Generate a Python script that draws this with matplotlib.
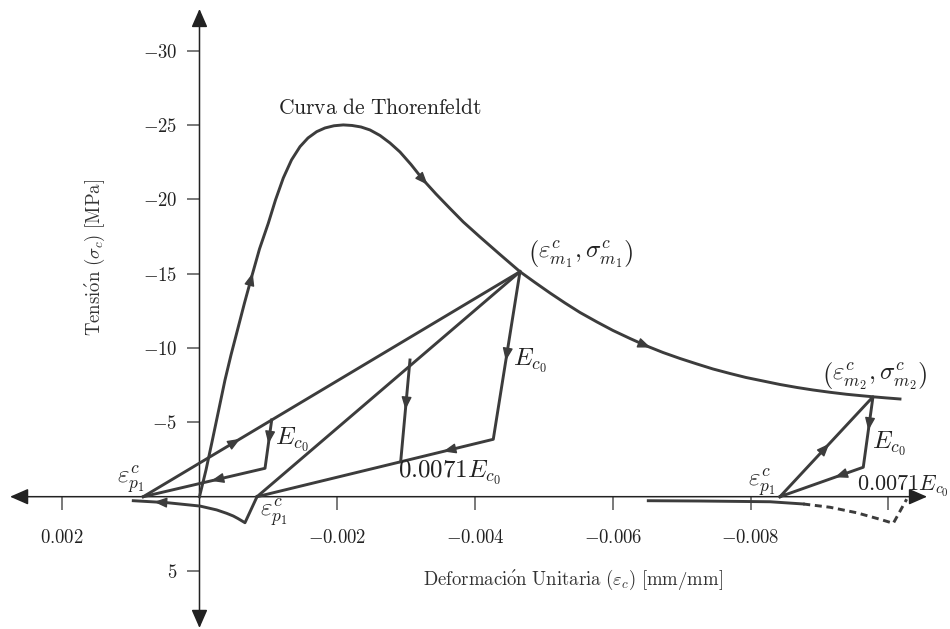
import numpy as np
import matplotlib
matplotlib.use("Agg")
import matplotlib.pyplot as plt

plt.rcParams["mathtext.fontset"] = "cm"
plt.rcParams["font.family"] = ["DejaVu Serif"]

COL = "#3c3c3c"
AXCOL = "#555555"

# Envolvente (curva de Thorenfeldt)
eps_env = [0.0, -0.0000943, -0.0001814, -0.0002758, -0.0003701, -0.0004572, -0.0005515,
           -0.0006531, -0.0007576, -0.0008708, -0.0009985, -0.0011030, -0.0012163,
           -0.0013353, -0.0014586, -0.0015747, -0.0017010, -0.0018215, -0.0019521,
           -0.0020871, -0.0022134, -0.0023440, -0.0024746, -0.0026197, -0.0027649,
           -0.0029100, -0.0030697, -0.0032482, -0.0034325, -0.0036357, -0.0038287,
           -0.0040711, -0.0043614, -0.0046517, -0.0048694, -0.0050871, -0.0053048,
           -0.0055225, -0.0057692, -0.0060015, -0.0062482, -0.0064906, -0.0067271,
           -0.0069739, -0.0072206, -0.0074528, -0.0076996, -0.0079318, -0.0081785,
           -0.0084253, -0.0086720, -0.0089042, -0.0091509, -0.0093933, -0.0095864,
           -0.0097750, -0.0099637, -0.0101669]
sig_env = [0.0, -1.796, -3.679, -5.763, -7.848, -9.529, -11.211, -13.026, -14.795,
           -16.658, -18.386, -19.953, -21.432, -22.643, -23.537, -24.122, -24.546,
           -24.795, -24.943, -25.0, -24.963, -24.862, -24.661, -24.291, -23.786,
           -23.181, -22.340, -21.298, -20.356, -19.382, -18.474, -17.465, -16.288,
           -15.131, -14.405, -13.699, -13.026, -12.387, -11.749, -11.177, -10.639,
           -10.135, -9.697, -9.294, -8.924, -8.588, -8.285, -8.016, -7.781, -7.545,
           -7.344, -7.176, -7.021, -6.886, -6.799, -6.718, -6.644, -6.570]

# descarga desde (eps_m1, sig_m1) hasta eps_p1
eps_unl1 = [-0.0046517, -0.004264, -0.000835]
sig_unl1 = [-15.131, -3.86, 0.0]
# recarga eps_p1 -> m1
eps_rel1 = [-0.000835, -0.0046517]
sig_rel1 = [0.0, -15.131]
# descarga parcial
eps_par = [-0.003055, -0.002920]
sig_par = [-9.19, -2.35]
# recta desde eps_p1 (izquierda) hasta m1
eps_up = [0.000816, -0.0046517]
sig_up = [0.0, -15.131]
# ciclo pequeno
eps_small = [-0.001048, -0.000951, 0.000816]
sig_small = [-5.16, -1.91, 0.0]
# rama de traccion 1
eps_ten1 = [-0.000835, -0.000660, -0.000559, -0.000491, -0.000395, -0.000250,
            -0.000007, 0.000476, 0.000961]
sig_ten1 = [0.0, 1.75, 1.47, 1.30, 1.12, 0.89, 0.63, 0.40, 0.27]
# ciclo en m2
eps_cyc2 = [-0.008425, -0.009775, -0.009634, -0.008425]
sig_cyc2 = [0.0, -6.718, -1.98, 0.0]
# rama de traccion 2 (continua y discontinua)
eps_ten2 = [-0.006514, -0.007264, -0.008280, -0.008763]
sig_ten2 = [0.27, 0.29, 0.34, 0.49]
eps_ten2d = [-0.008763, -0.009151, -0.009538, -0.009877, -0.010070, -0.010264]
sig_ten2d = [0.49, 0.71, 1.08, 1.52, 1.79, 0.17]

# flechas de sentido: (curva, eps, sig)
flechas = [("env", -0.000758, -14.79), ("env", -0.003248, -21.08), ("env", -0.00649, -10.09),
           ("unl1", -0.004448, -9.41), ("unl1", -0.003592, -3.14), ("par", -0.003041, -6.10),
           ("up", -0.00054, -3.77), ("small", -0.001023, -3.81), ("small", -0.000225, -1.12),
           ("ten1", 0.000602, 0.42), ("cyc2", -0.009103, -3.36), ("cyc2", -0.009732, -4.71),
           ("cyc2", -0.009271, -1.46)]

yticks = [-30, -25, -20, -15, -10, -5, 5]
xticks = [0.002, -0.002, -0.004, -0.006, -0.008, -0.010]
xticklabels = ["0.002", "-0.002", "-0.004", "-0.006", "-0.008", ""]

curvas = {"env": (eps_env, sig_env), "unl1": (eps_unl1, sig_unl1), "rel1": (eps_rel1, sig_rel1),
          "par": (eps_par, sig_par), "up": (eps_up, sig_up), "small": (eps_small, sig_small),
          "ten1": (eps_ten1, sig_ten1), "cyc2": (eps_cyc2, sig_cyc2), "ten2": (eps_ten2, sig_ten2)}

fig = plt.figure(figsize=(9.5, 6.29), dpi=100)
ax = fig.add_axes([0, 0, 1, 1])
ax.set_xlim(0.0028955, -0.010893)
ax.set_ylim(8.897, -33.40)

for xs, ys in curvas.values():
    ax.plot(xs, ys, color=COL, lw=2.1, solid_joinstyle="round", zorder=3)
ax.plot(eps_ten2d, sig_ten2d, color=COL, lw=2.1, ls=(0, (2.4, 1.6)), zorder=3)


def flecha(xs, ys, x0, y0):
    pts = ax.transData.transform(np.column_stack([xs, ys]))
    p = ax.transData.transform((x0, y0))
    best = None
    for a, b in zip(pts[:-1], pts[1:]):
        d = b - a
        t = np.clip(np.dot(p - a, d) / np.dot(d, d), 0, 1)
        q = a + t * d
        dist = np.hypot(*(p - q))
        if best is None or dist < best[0]:
            best = (dist, q, d / np.hypot(*d))
    _, q, u = best
    inv = ax.transData.inverted()
    ax.annotate("", xy=inv.transform(q + u * 4), xytext=inv.transform(q - u * 4),
                arrowprops=dict(arrowstyle="-|>,head_length=0.55,head_width=0.22",
                                color=COL, lw=1.0, shrinkA=0, shrinkB=0, mutation_scale=14),
                zorder=4)


for nombre, x0, y0 in flechas:
    flecha(*curvas[nombre], x0, y0)

# ejes con flechas
for s in ax.spines.values():
    s.set_color("none")
ax.spines["left"].set_position(("data", 0))
ax.spines["bottom"].set_position(("data", 0))
ax.annotate("", xy=(0.00275, 0), xytext=(-0.01056, 0),
            arrowprops=dict(arrowstyle="<|-|>,head_length=0.8,head_width=0.35", color="#222222",
                            lw=1.1, shrinkA=0, shrinkB=0, mutation_scale=14), zorder=2)
ax.annotate("", xy=(0, -32.8), xytext=(0, 8.83),
            arrowprops=dict(arrowstyle="<|-|>,head_length=0.8,head_width=0.35", color="#222222",
                            lw=1.1, shrinkA=0, shrinkB=0, mutation_scale=14), zorder=2)

ax.set_yticks(yticks)
ax.set_yticklabels(["$%d$" % v for v in yticks])
ax.set_xticks(xticks)
ax.set_xticklabels(["$%s$" % s if s else "" for s in xticklabels])
ax.tick_params(axis="both", direction="out", length=9, width=1.1, color=AXCOL,
               labelsize=13.5, labelcolor="#222222")
ax.tick_params(axis="y", pad=7)
ax.tick_params(axis="x", pad=14)

# textos
ax.text(-0.00262, -26.12, r"$\mathrm{Curva\ de\ Thorenfeldt}$", fontsize=15.5,
        ha="center", va="center", color="#222222")
ax.text(-0.004768, -16.32, r"$\left(\varepsilon^c_{m_1},\sigma^c_{m_1}\right)$", fontsize=18,
        ha="left", va="center", color="#222222")
ax.text(-0.00903, -8.18, r"$\left(\varepsilon^c_{m_2},\sigma^c_{m_2}\right)$", fontsize=18,
        ha="left", va="center", color="#222222")
for ex, sy in [(-0.00455, -9.2), (-0.001096, -3.88), (-0.009756, -3.61)]:
    ax.text(ex, sy, r"$E_{c_0}$", fontsize=18, ha="left", va="center", color="#222222")
ax.text(-0.002881, -1.66, r"$0.0071E_{c_0}$", fontsize=18, ha="left", va="center", color="#222222")
ax.text(-0.009538, -0.72, r"$0.0071E_{c_0}$", fontsize=16, ha="left", va="center", color="#222222")
for ex, sy in [(0.001202, -1.12), (-0.000878, 1.06), (-0.007965, -0.95)]:
    ax.text(ex, sy, r"$\varepsilon^c_{p_1}$", fontsize=18, ha="left", va="center", color="#222222")

ax.text(-0.005421, 5.60, r"$\mathrm{Deformaci\acute{o}n\ Unitaria}\ (\varepsilon_c)\ [\mathrm{mm/mm}]$",
        fontsize=13.5, ha="center", va="center", color="#333333")
ax.text(0.001517, -16.09, r"$\mathrm{Tensi\acute{o}n}\ (\sigma_c)\ [\mathrm{MPa}]$",
        fontsize=13.5, ha="center", va="center", rotation=90, color="#333333")

fig.savefig("out.png", dpi=100)
